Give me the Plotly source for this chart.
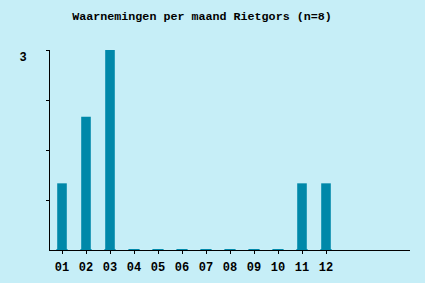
import plotly.graph_objects as go

months = ["01", "02", "03", "04", "05", "06", "07", "08", "09", "10", "11", "12"]
counts = [1, 2, 3, 0, 0, 0, 0, 0, 0, 0, 1, 1]
y_tickvals = [0.75, 1.5, 2.25, 3]
y_ticktext = ["", "", "", "3"]

BG = "#c6eef7"
BAR = "#0088a9"
FONT = "Liberation Mono"

xs = list(range(len(months)))

fig = go.Figure()
fig.add_trace(go.Bar(x=xs, y=counts, width=0.4, marker=dict(color=BAR, line=dict(width=0))))
fig.add_trace(go.Scatter(x=xs, y=[0] * len(xs), mode="markers", cliponaxis=False,
                         marker=dict(symbol="line-ew", size=8, line=dict(width=2, color=BAR), color=BAR),
                         hoverinfo="skip"))

fig.update_layout(
    width=425, height=283,
    paper_bgcolor=BG, plot_bgcolor=BG,
    margin=dict(l=50, r=15, t=50, b=33, autoexpand=False),
    showlegend=False,
    font=dict(family=FONT, size=12, color="black", weight="bold"),
    title=dict(text="Waarnemingen per maand Rietgors (n=8)", x=202 / 425, xanchor="center",
               xref="container", y=1 - 16 / 283, yref="container", yanchor="middle",
               font=dict(family=FONT, size=11.7, color="black", weight="bold")),
)
fig.update_xaxes(range=[-0.5, 14.5], tickvals=xs, ticktext=months, showline=True, linecolor="black",
                 linewidth=1, ticks="outside", ticklen=3, tickcolor="black", showgrid=False,
                 zeroline=False, ticklabelstandoff=3, automargin=False)
fig.update_yaxes(range=[0, 3], tickvals=y_tickvals, ticktext=y_ticktext, showline=True, linecolor="black",
                 linewidth=1, ticks="outside", ticklen=3, tickcolor="black", showgrid=False,
                 zeroline=False, ticklabelstandoff=17, ticklabelshift=7, automargin=False)

fig.write_html("out.html")
